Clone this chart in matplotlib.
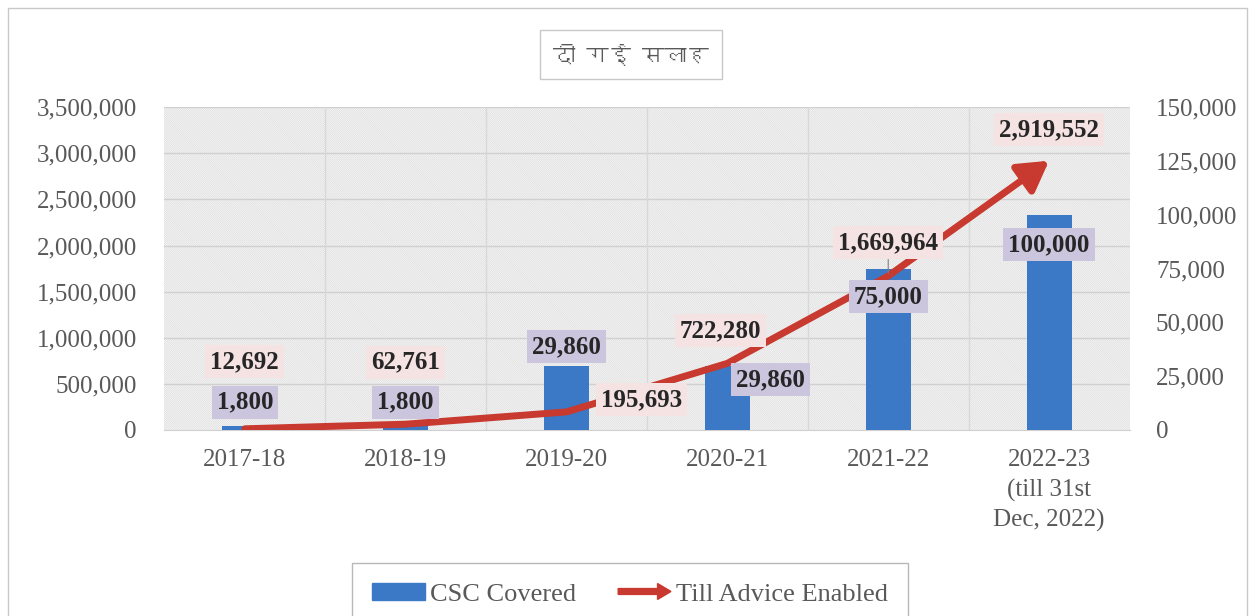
import matplotlib
matplotlib.use('Agg')
import matplotlib.pyplot as plt
import matplotlib.patches as mpatches
from matplotlib.path import Path
from matplotlib.legend_handler import HandlerPatch
from matplotlib import font_manager as fm
from matplotlib.ft2font import FT2Font

years = ['2017-18', '2018-19', '2019-20', '2020-21', '2021-22',
         '2022-23\n(till 31st\nDec, 2022)']
csc_covered = [1800, 1800, 29860, 29860, 75000, 100000]
advice_enabled = [12692, 62761, 195693, 722280, 1669964, 2919552]
left_ticks = [0, 500000, 1000000, 1500000, 2000000, 2500000, 3000000, 3500000]
right_ticks = [0, 25000, 50000, 75000, 100000, 125000, 150000]
title = 'दी गई सलाह'

blue = '#3b78c6'
red = '#c8392f'
grey = '#595959'
serif = 'Liberation Serif'


def font_with(ch):
    # look for any installed font that has this glyph
    for f in fm.fontManager.ttflist:
        try:
            if ord(ch) in FT2Font(f.fname).get_charmap():
                return f.name
        except Exception:
            pass
    return 'DejaVu Sans'


deva_font = font_with('स')

fig = plt.figure(figsize=(12.55, 6.16), dpi=100)
ax = fig.add_axes([0.131, 0.302, 0.769, 0.524])
ax2 = ax.twinx()

x = list(range(len(years)))

# background hatch + grid (in bar axes so they stay under the bars)
plt.rcParams['hatch.linewidth'] = 0.6
ax.add_patch(mpatches.Rectangle((0, 0), 1, 1, transform=ax.transAxes, facecolor='#fbfbfb',
                                edgecolor='#dedede', hatch='\\' * 16, lw=0, zorder=0))
for v in left_ticks[1:]:
    f = v / left_ticks[-1]
    ax.plot([0, 1], [f, f], transform=ax.transAxes, color='#d0d0d0', lw=1, zorder=1)
for b in [0.5, 1.5, 2.5, 3.5, 4.5]:
    ax.axvline(b, color='#d8d8d8', lw=1, zorder=1)

ax.bar(x, csc_covered, width=0.28, color=blue, zorder=3)
ax.set_xlim(-0.5, 5.5)
ax.set_ylim(0, right_ticks[-1])
ax.set_yticks(right_ticks)
ax.set_yticklabels([f'{v:,}' for v in right_ticks])
ax.yaxis.tick_right()
ax.set_xticks(x)
ax.set_xticklabels(years, linespacing=1.4)
ax.tick_params(axis='x', length=0, pad=14)
ax.tick_params(axis='y', length=0, pad=19)
for lab in ax.get_xticklabels() + ax.get_yticklabels():
    lab.set_family(serif)
    lab.set_fontsize(18)
    lab.set_color(grey)
for s in ['top', 'left', 'right']:
    ax.spines[s].set_visible(False)
ax.spines['bottom'].set_color('#d0d0d0')

ax2.set_ylim(0, left_ticks[-1])
ax2.set_yticks(left_ticks)
ax2.set_yticklabels([f'{v:,}' for v in left_ticks])
ax2.yaxis.tick_left()
ax2.tick_params(axis='y', length=0, pad=20)
for lab in ax2.get_yticklabels():
    lab.set_family(serif)
    lab.set_fontsize(18)
    lab.set_color(grey)
for s in ax2.spines.values():
    s.set_visible(False)

arrow = mpatches.FancyArrowPatch(path=Path(list(zip(x, advice_enabled))),
                                 arrowstyle='-|>,head_length=0.6,head_width=0.35',
                                 mutation_scale=30, color=red, lw=5,
                                 transform=ax2.transData, zorder=3)
ax2.add_patch(arrow)

# data labels (pixel offsets from the point)
line_off = [(0, 67), (0, 62), (75, 12), (-7, 33), (0, 33), (0, 31)]
bar_off = [(0, 24), (0, 24), (0, 19), (43, -14), (0, -28), (0, -30)]

for i, v in enumerate(advice_enabled):
    kw = {}
    if i == 4:
        kw['arrowprops'] = dict(arrowstyle='-', color='#7f7f7f', lw=0.8, shrinkA=0, shrinkB=2)
    ax2.annotate(f'{v:,}', xy=(i, v), xytext=line_off[i], textcoords='offset pixels',
                 ha='center', va='center', fontsize=18, fontweight='bold', family=serif,
                 color='#262626', zorder=6,
                 bbox=dict(boxstyle='square,pad=0.2', fc='#f5e2e2', ec='none'), **kw)

for i, v in enumerate(csc_covered):
    ax2.annotate(f'{v:,}', xy=(i, v), xycoords=ax.transData, xytext=bar_off[i],
                 textcoords='offset pixels', ha='center', va='center', fontsize=18,
                 fontweight='bold', family=serif, color='#262626', zorder=6,
                 bbox=dict(boxstyle='square,pad=0.2', fc='#cbc5dd', ec='none'))

# title box
fig.text(0.503, 0.911, title, ha='center', va='center', fontsize=16, color=grey,
         family=[deva_font, 'DejaVu Sans'],
         bbox=dict(boxstyle='square,pad=0.6', fc='white', ec='#c8c8c8', lw=1))

# legend
bar_h = mpatches.Patch(color=blue, label='CSC Covered')
line_h = mpatches.Patch(color=red, label='Till Advice Enabled')


def arrow_patch(legend, orig_handle, xdescent, ydescent, width, height, fontsize):
    return mpatches.FancyArrow(-xdescent, height / 2 - ydescent, width, 0,
                               width=height * 0.35, head_width=height * 0.95,
                               head_length=height * 0.8, length_includes_head=True,
                               color=red)


leg = fig.legend(handles=[bar_h, line_h], loc='center', bbox_to_anchor=(0.502, 0.035),
                 ncol=2, frameon=True, fancybox=False, edgecolor='#a6a6a6',
                 prop={'family': serif, 'size': 19}, handlelength=2.0, handleheight=0.6,
                 columnspacing=1.6, handletextpad=0.2, borderpad=0.75, borderaxespad=0,
                 handler_map={line_h: HandlerPatch(patch_func=arrow_patch)})
for t in leg.get_texts():
    t.set_color(grey)

# outer frame
fig.patches.append(mpatches.Rectangle((0.006, -0.01), 0.988, 0.997, transform=fig.transFigure,
                                      fill=False, ec='#c8c8c8', lw=1))

fig.savefig('out.png', dpi=100)
